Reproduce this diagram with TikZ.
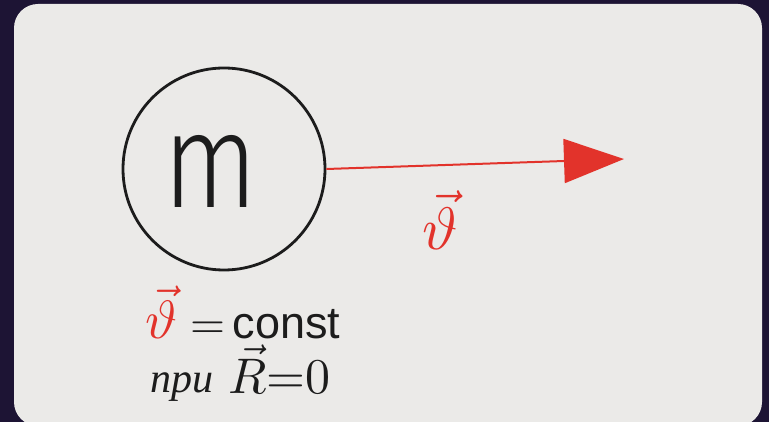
\documentclass[tikz,border=0pt]{standalone}
\usepackage{fontspec}
\setmainfont{Liberation Sans}
\newfontfamily\mfont{Fira Sans Light}
\newfontfamily\cyrfont{Liberation Serif}
\usetikzlibrary{arrows.meta}
\definecolor{bgc}{HTML}{1D1434}
\definecolor{paper}{HTML}{EBEAE8}
\definecolor{ink}{HTML}{1C1C1C}
\definecolor{redink}{HTML}{E2332B}
\tikzset{
  inktext/.style={text=ink, inner sep=0pt},
  redtext/.style={text=redink, inner sep=0pt},
  velarrow/.style={draw=redink, line width=2pt, -{Triangle[length=60pt,width=44pt]}},
}
\begin{document}
\begin{tikzpicture}[x=1pt,y=-1pt]
\useasboundingbox (0,0) rectangle (769,422);
\fill[bgc] (0,0) rectangle (769,422);
\fill[paper, rounded corners=24pt] (14,4) rectangle (762,426);
\node[circle, draw=ink, line width=2.8pt, minimum size=202pt, inner sep=0pt] (mass) at (224,169) {};
\node[inktext, font=\mfont\fontsize{135}{135}\selectfont, xscale=0.82] (mlabel) at (211,171) {m};
\coordinate (tip) at (624,159);
\draw[velarrow] (mass.east) -- (tip);
\node[redtext] (vlabel) at (440,220) {\scalebox{6}{$\vec{\vartheta}$}};
\node[redtext] (vconst) at (161,312) {\scalebox{5.4}{$\vec{\vartheta}$}};
\node[inktext, anchor=base west] (const) at (190,338) {\scalebox{4.5}{${=}\,\mathrm{const}$}};
\node[inktext, font=\cyrfont\itshape\fontsize{42}{42}\selectfont, anchor=base west] (pri) at (150,392) {при};
\node[inktext, anchor=base west] (rzero) at (228,393) {\scalebox{5}{$\vec{R}{=}0$}};
\end{tikzpicture}
\end{document}
